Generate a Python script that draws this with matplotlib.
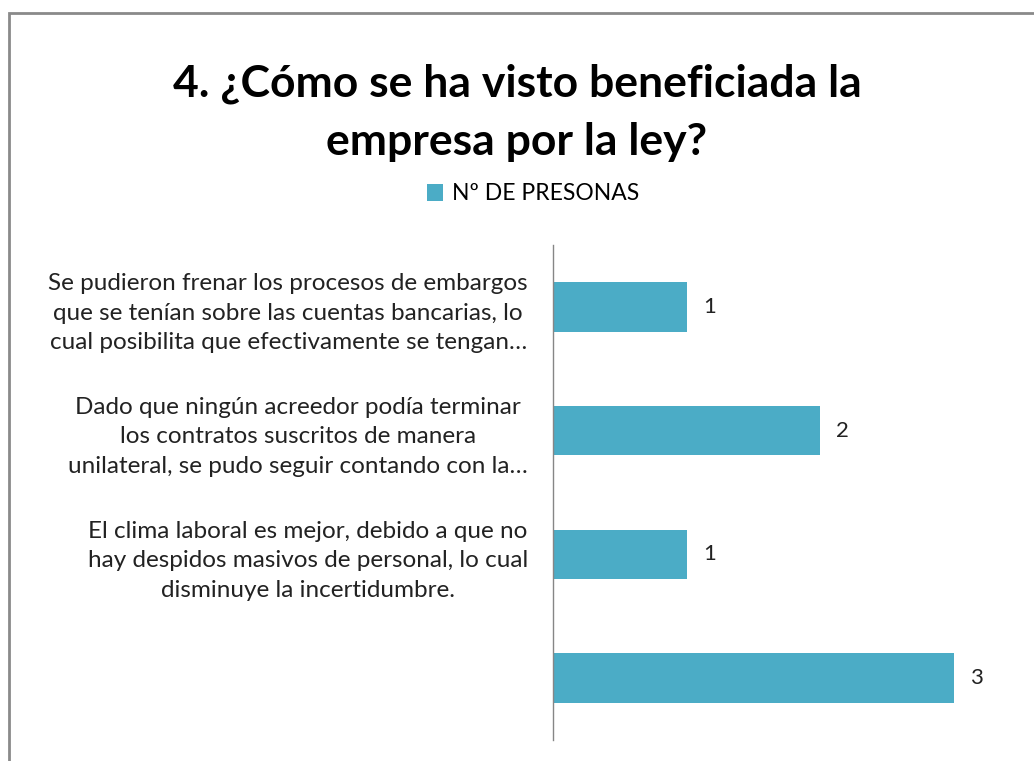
import matplotlib.pyplot as plt
from matplotlib.patches import Rectangle

# Chart data
categories = [
    "Se pudieron frenar los procesos de embargos\nque se tenían sobre las cuentas bancarias, lo\ncual posibilita que efectivamente se tengan…",
    "Dado que ningún acreedor podía terminar\nlos contratos suscritos de manera\nunilateral, se pudo seguir contando con la…",
    "El clima laboral es mejor, debido a que no\nhay despidos masivos de personal, lo cual\ndisminuye la incertidumbre.",
    "",
]
values = [1, 2, 1, 3]
series_name = "Nº DE PRESONAS"
title = "4. ¿Cómo se ha visto beneficiada la\nempresa por la ley?"

bar_color = "#4BACC6"
plt.rcParams["font.family"] = ["Lato", "DejaVu Sans"]

fig = plt.figure(figsize=(10.34, 7.61), dpi=100)
ax = fig.add_axes([553 / 1034, 1 - 740 / 761, (1021 - 553) / 1034, 495 / 761])

pos = list(range(len(values)))
bars = ax.barh(pos, values, height=0.4, color=bar_color, label=series_name)
ax.set_ylim(len(values) - 0.5, -0.5)
ax.set_xlim(0, 3.5)

for y, v in zip(pos, values):
    ax.text(v + 0.12, y, str(v), va="center", ha="left", fontsize=16, color="#222222")

ax.set_yticks(pos)
ax.set_yticklabels(categories, fontsize=17.5, color="#222222", linespacing=1.5)
for t in ax.get_yticklabels():
    t.set_multialignment("center")
ax.tick_params(axis="y", length=0, pad=18)
ax.set_xticks([])
for side in ["top", "right", "bottom"]:
    ax.spines[side].set_visible(False)
ax.spines["left"].set_color("#868686")
ax.spines["left"].set_linewidth(1)

fig.text(0.5, 1 - 113 / 761, title, ha="center", va="center", fontsize=32,
         fontweight="bold", color="black", linespacing=1.55)

fig.legend(handles=[bars], labels=[series_name], loc="center",
           bbox_to_anchor=(533 / 1034, 1 - 194 / 761), frameon=False,
           fontsize=16.5, handlelength=0.7, handleheight=0.7, handletextpad=0.4)

# outer chart frame
fig.add_artist(Rectangle((8.5 / 1034, -0.1), 1.2, 1 - 12.5 / 761 + 0.1,
                         transform=fig.transFigure, fill=False,
                         edgecolor="#8a8a8a", linewidth=2))

fig.savefig("out.png", dpi=100)
